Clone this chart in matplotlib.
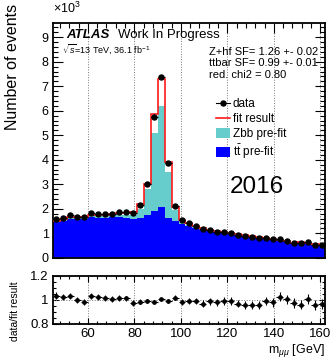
import numpy as np
import matplotlib
matplotlib.use('Agg')
import matplotlib.pyplot as plt
from matplotlib.ticker import MultipleLocator, FuncFormatter
from matplotlib.lines import Line2D
from matplotlib.patches import Patch

plt.rcParams['font.family'] = ['Liberation Sans', 'DejaVu Sans']
plt.rcParams['mathtext.fontset'] = 'custom'
plt.rcParams['mathtext.rm'] = 'Liberation Sans'
plt.rcParams['mathtext.it'] = 'Liberation Sans:italic'
plt.rcParams['mathtext.bf'] = 'Liberation Sans:bold'

# dimuon mass binning [GeV]
m_lo, m_hi, bin_w = 45, 162, 3

# events per bin, in units of 10^3
data = [1.57, 1.61, 1.73, 1.66, 1.66, 1.81, 1.78, 1.78, 1.78, 1.85,
        1.85, 1.81, 2.15, 3.00, 5.76, 7.36, 3.88, 2.11, 1.54, 1.40,
        1.28, 1.18, 1.14, 1.07, 1.04, 1.00, 0.93, 0.88, 0.86, 0.79,
        0.79, 0.75, 0.76, 0.69, 0.61, 0.61, 0.63, 0.53, 0.53]
fit = [1.52, 1.58, 1.68, 1.66, 1.68, 1.75, 1.73, 1.75, 1.77, 1.82,
       1.83, 1.86, 2.18, 3.03, 5.85, 7.31, 3.92, 2.07, 1.56, 1.41,
       1.29, 1.22, 1.15, 1.09, 1.05, 1.01, 0.96, 0.92, 0.90, 0.83,
       0.80, 0.77, 0.74, 0.69, 0.62, 0.64, 0.62, 0.56, 0.55]
ttbar_pre = [1.47, 1.50, 1.58, 1.60, 1.58, 1.65, 1.64, 1.64, 1.66, 1.65,
             1.63, 1.60, 1.63, 1.75, 1.92, 2.06, 1.62, 1.50, 1.38, 1.30,
             1.22, 1.14, 1.10, 1.04, 1.01, 0.98, 0.92, 0.88, 0.86, 0.80,
             0.78, 0.76, 0.74, 0.68, 0.61, 0.62, 0.61, 0.53, 0.53]
zbb_pre = [0.03, 0.05, 0.06, 0.04, 0.06, 0.06, 0.06, 0.07, 0.07, 0.11,
           0.13, 0.16, 0.34, 1.05, 3.18, 4.13, 1.89, 0.45, 0.09, 0.05,
           0.03, 0.03, 0.02, 0.02, 0.02, 0.01, 0.02, 0.02, 0.01, 0.01,
           0.01, 0.01, 0.01, 0.01, 0.01, 0.01, 0.01, 0.01, 0.01]
ratio = [1.036, 1.021, 1.030, 1.000, 0.985, 1.036, 1.027, 1.015, 1.007, 1.019,
         1.013, 0.973, 0.985, 0.990, 0.985, 1.007, 0.990, 1.019, 0.985, 0.990,
         0.990, 0.970, 0.990, 0.980, 0.990, 0.990, 0.970, 0.960, 0.960, 0.955,
         0.990, 0.980, 1.027, 1.005, 0.977, 0.960, 1.010, 0.955, 0.970]

edges = np.arange(m_lo, m_hi + 1, bin_w)
centers = edges[:-1] + bin_w / 2
data = np.array(data)
fit = np.array(fit)
ttbar_pre = np.array(ttbar_pre)
zbb_pre = np.array(zbb_pre)
ratio = np.array(ratio)
data_err = np.sqrt(data * 1e3) / 1e3
ratio_err = data_err / fit

blue = '#0000ff'
cyan = '#66cccc'
red = '#ff1a1a'

fig = plt.figure(figsize=(3.33, 3.59), dpi=100)
ax = fig.add_axes([0.159, 0.282, 0.817, 0.654])
rax = fig.add_axes([0.159, 0.0975, 0.817, 0.134])

# main panel
ax.stairs(ttbar_pre, edges, baseline=0, fill=True, color=blue, zorder=2)
ax.stairs(ttbar_pre + zbb_pre, edges, baseline=ttbar_pre, fill=True, color=cyan, zorder=2)
ax.stairs(fit, edges, baseline=None, color=red, lw=1.2, zorder=3)
ax.errorbar(centers, data, yerr=data_err, xerr=bin_w / 2, fmt='o', color='k',
            ms=3.6, lw=0.8, capsize=0, zorder=4)

for a in (ax, rax):
    a.set_xlim(m_lo, m_hi)
    a.xaxis.set_major_locator(MultipleLocator(20))
    a.xaxis.set_minor_locator(MultipleLocator(4))
    a.grid(axis='x', which='major', ls=':', color='#777777', lw=0.7)
    a.set_axisbelow(True)
    a.tick_params(which='both', direction='in', top=True, right=True,
                  labelsize=9, width=0.8, pad=3)
    for s in a.spines.values():
        s.set_linewidth(1.3)

ax.set_ylim(0, 9.58)
ax.yaxis.set_major_locator(MultipleLocator(1))
ax.yaxis.set_minor_locator(MultipleLocator(0.2))
ax.yaxis.set_major_formatter(FuncFormatter(lambda v, p: f'{v:g}'))
ax.tick_params(which='major', length=7)
ax.tick_params(which='minor', length=3.5)
ax.tick_params(axis='x', labelbottom=False)

fig.text(0.159, 0.955, r'$\times$10$^{3}$', fontsize=9, ha='left', va='bottom')
fig.text(0.037, 0.988, 'Number of events', rotation=90, fontsize=11.5, ha='center', va='top')

ax.text(0.05, 0.935, 'ATLAS', transform=ax.transAxes, fontsize=9.5,
        fontweight='bold', fontstyle='italic', ha='left', va='baseline')
ax.text(0.239, 0.935, 'Work In Progress', transform=ax.transAxes, fontsize=9.5,
        ha='left', va='baseline')
ax.text(0.035, 0.874, r'$\sqrt{s}$=13 TeV, 36.1 fb$^{-1}$', transform=ax.transAxes,
        fontsize=6.5, ha='left', va='baseline')

for i, line in enumerate(['Z+hf SF= 1.26 +- 0.02', 'ttbar SF= 0.99 +- 0.01', 'red. chi2 = 0.80']):
    ax.text(0.575, 0.864 - i * 0.049, line, transform=ax.transAxes,
            fontsize=8, ha='left', va='baseline')

handles = [
    Line2D([], [], color='k', marker='o', ms=3.6, lw=0.8),
    Line2D([], [], color=red, lw=1.2),
    Patch(facecolor=cyan, edgecolor='none'),
    Patch(facecolor=blue, edgecolor='none'),
]
labels = ['data', 'fit result', 'Zbb pre-fit', r'$\mathrm{t\bar{t}}$ pre-fit']
ax.legend(handles, labels, loc='upper left', bbox_to_anchor=(0.6, 0.68),
          frameon=False, fontsize=8.5, handlelength=1.2, handleheight=0.9,
          handletextpad=0.2, labelspacing=0.25, borderpad=0, borderaxespad=0)

ax.text(0.65, 0.30, '2016', transform=ax.transAxes, fontsize=17.5,
        ha='left', va='center')

# ratio panel
rax.axhline(1, ls=':', color='#777777', lw=0.7, zorder=1)
rax.errorbar(centers, ratio, yerr=ratio_err, xerr=bin_w / 2, fmt='o', color='k',
             ms=2.4, lw=0.8, capsize=0, zorder=3)
rax.set_ylim(0.8, 1.2)
rax.yaxis.set_major_locator(MultipleLocator(0.2))
rax.yaxis.set_minor_locator(MultipleLocator(0.05))
rax.yaxis.set_major_formatter(FuncFormatter(lambda v, p: f'{v:g}'))
rax.tick_params(which='major', length=4, labelsize=9.5)
rax.tick_params(which='minor', length=2)
fig.text(0.045, 0.134, 'data/fit result', rotation=90, fontsize=7.5, ha='center', va='center')
rax.set_xlabel(r'm$_{\mu\mu}$ [GeV]', fontsize=9, ha='right', x=1.0, labelpad=1)

fig.savefig('out.png', dpi=100)
